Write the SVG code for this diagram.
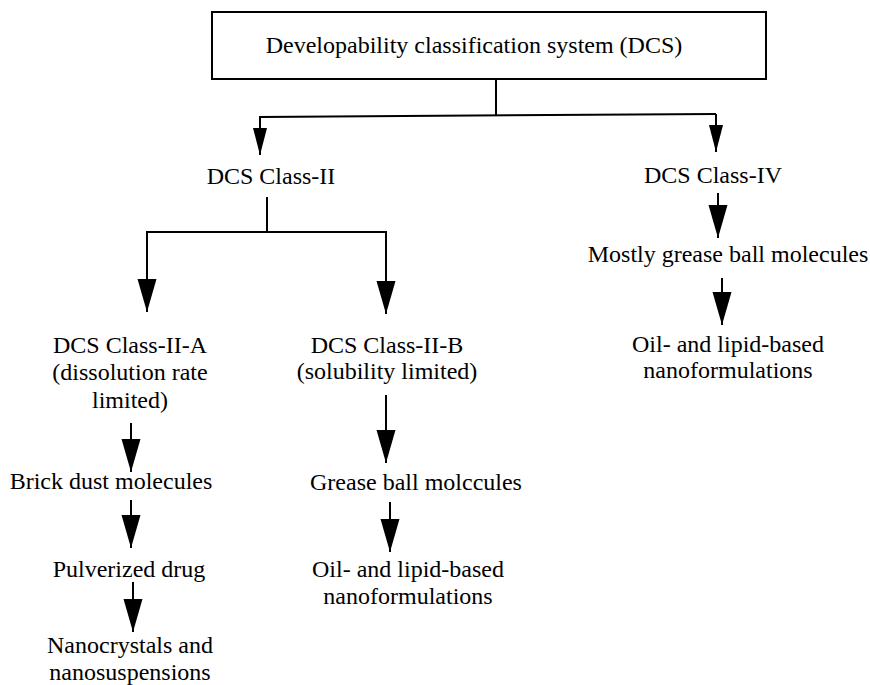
<svg xmlns="http://www.w3.org/2000/svg" width="870" height="685" viewBox="0 0 870 685">
<style>
text{font-size:24px;fill:#000;text-anchor:middle}
.ln{fill:none;stroke:#000;stroke-width:2}
.big{marker-end:url(#ab)}
.sm{marker-end:url(#as)}
</style>
<defs>
<marker id="ab" markerUnits="userSpaceOnUse" viewBox="0 -10 34 20" refX="33" refY="0" markerWidth="34" markerHeight="20" orient="auto">
<path d="M0,-9.5 L33,0 L0,9.5 Z" fill="#000"/>
</marker>
<marker id="as" markerUnits="userSpaceOnUse" viewBox="0 -8 28 16" refX="27" refY="0" markerWidth="28" markerHeight="16" orient="auto">
<path d="M0,-7 L27,0 L0,7 Z" fill="#000"/>
</marker>
</defs>
<rect width="870" height="685" fill="#fff"/>
<g id="connectors">
<path class="ln" d="M496,79 V116"/>
<path class="ln sm" d="M716,114 L260,117 V155"/>
<path class="ln sm" d="M716,114 V152"/>
<path class="ln" d="M267,197 V232"/>
<path class="ln big" d="M267,232 H147 V312"/>
<path class="ln big" d="M267,232 H386 V314"/>
<path class="ln big" d="M131,423 V472"/>
<path class="ln big" d="M131,500 V548"/>
<path class="ln big" d="M133,582 V632"/>
<path class="ln big" d="M386,395 V463"/>
<path class="ln big" d="M390,502 V552"/>
<path class="ln big" d="M718,193 V238"/>
<path class="ln big" d="M722,278 V325"/>
</g>
<g font-family="Liberation Serif, serif">
<g id="dcs">
<rect x="212" y="12" width="554" height="67" fill="#fff" stroke="#000" stroke-width="2"/>
<text x="474" y="53">Developability classification system (DCS)</text>
</g>
<g id="class2"><text x="271" y="184">DCS Class-II</text></g>
<g id="class4"><text x="713" y="183">DCS Class-IV</text></g>
<g id="class2a">
<text x="130" y="353">DCS Class-II-A</text>
<text x="130" y="380">(dissolution rate</text>
<text x="130" y="408">limited)</text>
</g>
<g id="class2b">
<text x="387" y="353">DCS Class-II-B</text>
<text x="387" y="379">(solubility limited)</text>
</g>
<g id="brick"><text x="111" y="489">Brick dust molecules</text></g>
<g id="pulverized"><text x="129" y="577">Pulverized drug</text></g>
<g id="nano">
<text x="130" y="653">Nanocrystals and</text>
<text x="130" y="680">nanosuspensions</text>
</g>
<g id="grease"><text x="416" y="490">Grease ball molccules</text></g>
<g id="oil2b">
<text x="408" y="577">Oil- and lipid-based</text>
<text x="408" y="604">nanoformulations</text>
</g>
<g id="mostly"><text x="728" y="262">Mostly grease ball molecules</text></g>
<g id="oil4">
<text x="728" y="352">Oil- and lipid-based</text>
<text x="728" y="378">nanoformulations</text>
</g>
</g>
</svg>
